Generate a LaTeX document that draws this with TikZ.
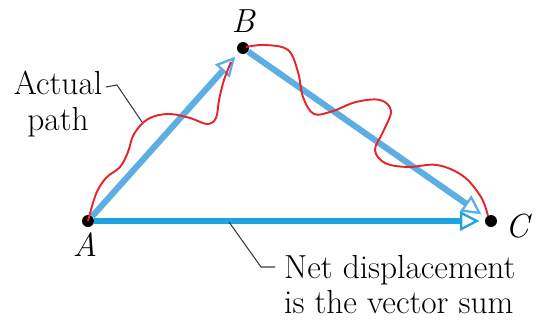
\documentclass[tikz,border=0pt]{standalone}
\usepackage{tikz}
\usepackage{xcolor}
\usetikzlibrary{arrows.meta}
\definecolor{legblue}{HTML}{5DAEE3}
\definecolor{netblue}{HTML}{1EA3E0}
\definecolor{pathred}{HTML}{E4252B}
\definecolor{leadergray}{HTML}{3A3A3A}

\tikzset{
  dot/.style={circle,fill=black,inner sep=0pt,minimum size=0.24cm},
  vec/.style={line width=3.5pt,
    -{Triangle[open,length=11pt,width=11pt,line width=1.3pt]},shorten >=3pt},
  leader/.style={leadergray,line width=0.6pt},
  lbl/.style={font=\fontsize{19}{20}\selectfont\itshape},
  txt/.style={font=\fontsize{19}{20}\selectfont}
}

\begin{document}
\begin{tikzpicture}[x=0.02cm,y=-0.02cm]
  \useasboundingbox (0,0) rectangle (542,322);

  \node[dot] (A) at (88,221) {};
  \node[dot] (B) at (243,48) {};
  \node[dot] (C) at (491,221) {};
  \node[lbl] (Alabel) at (85,245) {A};
  \node[lbl] (Blabel) at (243,21) {B};
  \node[lbl] (Clabel) at (517,226) {C};

  \draw[vec,legblue] (A) -- (B);
  \draw[vec,legblue] (B) -- (C);
  \draw[vec,netblue] (A) -- (C);

  % the actual path, wiggling from A to B to C
  \draw[pathred,line width=1.1pt] plot[smooth,tension=0.6] coordinates {
    (88,221) (96,194) (106,178) (120,167) (128,152) (134,134) (148,119)
    (168,114) (190,118) (207,124) (216,118) (219,100) (224,80) (231,62)};
  \draw[pathred,line width=1.1pt] plot[smooth,tension=0.6] coordinates {
    (246,47) (265,45) (288,50) (298,72) (303,97) (314,114) (333,111)
    (356,102) (380,100) (391,111) (383,132) (375,150) (385,163) (408,167)
    (437,165) (463,176) (481,197) (488,216)};

  \node[txt,align=center] (actual) at (58,104) {Actual\\path};
  \node[txt,align=left,anchor=north west] (net) at (278,249)
    {Net displacement\\is the vector sum};

  \coordinate (actualend) at (106,87);
  \coordinate (onpath) at (142,122);
  \coordinate (onnet) at (229,222);
  \coordinate (netstart) at (275,267);
  \draw[leader] (actualend) -- ++(11,-2) -- (onpath);
  \draw[leader] (onnet) -- (261,267) -- (netstart);
\end{tikzpicture}
\end{document}
